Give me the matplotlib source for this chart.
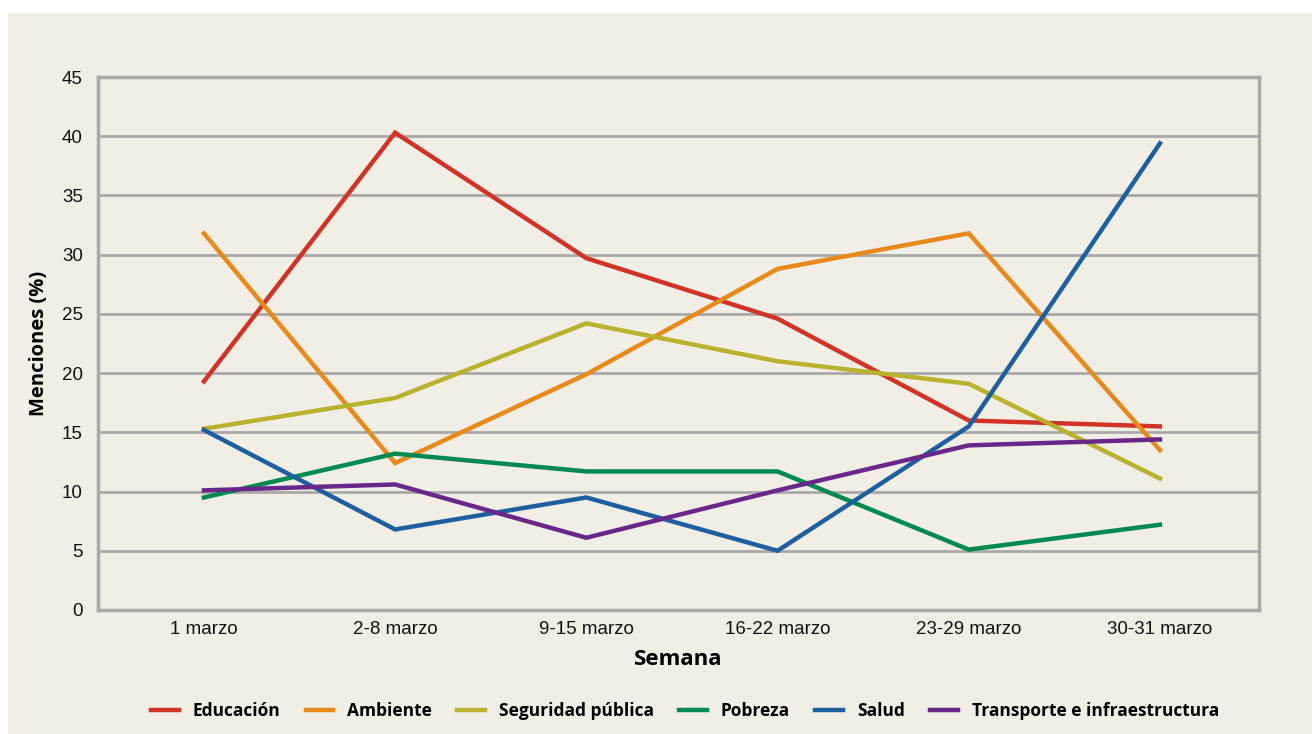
import matplotlib
matplotlib.use("Agg")
import matplotlib.pyplot as plt
from matplotlib.patches import Rectangle

categories = ["1 marzo", "2-8 marzo", "9-15 marzo", "16-22 marzo", "23-29 marzo", "30-31 marzo"]
educacion = [19.3, 40.3, 29.7, 24.6, 16.0, 15.5]
ambiente = [31.8, 12.4, 19.9, 28.8, 31.8, 13.5]
seguridad = [15.3, 17.9, 24.2, 21.0, 19.1, 11.1]
pobreza = [9.5, 13.2, 11.7, 11.7, 5.1, 7.2]
salud = [15.2, 6.8, 9.5, 5.0, 15.5, 39.4]
transporte = [10.1, 10.6, 6.1, 10.1, 13.9, 14.4]

series_names = ["Educación", "Ambiente", "Seguridad pública", "Pobreza", "Salud",
                "Transporte e infraestructura"]
series_values = [educacion, ambiente, seguridad, pobreza, salud, transporte]
colors = ["#d13426", "#e8891c", "#b9b22f", "#008a50", "#1f5f9f", "#68288a"]
yticks = [0, 5, 10, 15, 20, 25, 30, 35, 40, 45]

W, H = 1312, 734
fig = plt.figure(figsize=(W / 100, H / 100), dpi=100)
fig.patch.set_facecolor("white")
bg = "#f1eee6"
fig.patches.append(Rectangle((8 / W, 0), 1 - 8 / W, (H - 13) / H, transform=fig.transFigure,
                             facecolor=bg, edgecolor="none", zorder=-10))

left, right, top, bottom = 98, 1259, 77, 610
ax = fig.add_axes([left / W, 1 - bottom / H, (right - left) / W, (bottom - top) / H])
ax.set_zorder(5)
ax.set_facecolor(bg)

x = list(range(len(categories)))
for name, vals, c in zip(series_names, series_values, colors):
    ax.plot(x, vals, color=c, lw=3.2, label=name, solid_joinstyle="miter", zorder=3)

ax.set_xlim(-0.554, 5.518)
ax.set_ylim(0, 45)
ax.set_yticks(yticks)
ax.set_xticks(x)
ax.set_xticklabels(categories)
ax.yaxis.grid(True, color="#a9a9a9", lw=2)
ax.set_axisbelow(True)
for s in ax.spines.values():
    s.set_color("#a9a9a9")
    s.set_linewidth(2.5)
ax.tick_params(axis="both", length=0, labelsize=13.5, labelcolor="#111111",
               labelfontfamily="Liberation Sans")
ax.tick_params(axis="y", pad=11)
ax.tick_params(axis="x", pad=8)

ax.set_ylabel("Menciones (%)", fontsize=14.5, fontweight="bold", family="Open Sans", labelpad=9)
ax.set_xlabel("Semana", fontsize=16, fontweight="bold", family="Open Sans", labelpad=8)

leg = fig.legend(loc="center", bbox_to_anchor=(685 / W, 1 - 711 / H), ncol=6, frameon=False,
                 prop={"family": "Open Sans", "weight": "bold", "size": 12.5},
                 handlelength=1.6, handletextpad=0.8, columnspacing=1.45)
leg.set_zorder(6)
for l in leg.get_lines():
    l.set_linewidth(3.2)

fig.savefig("out.png", dpi=100, facecolor=fig.get_facecolor())
